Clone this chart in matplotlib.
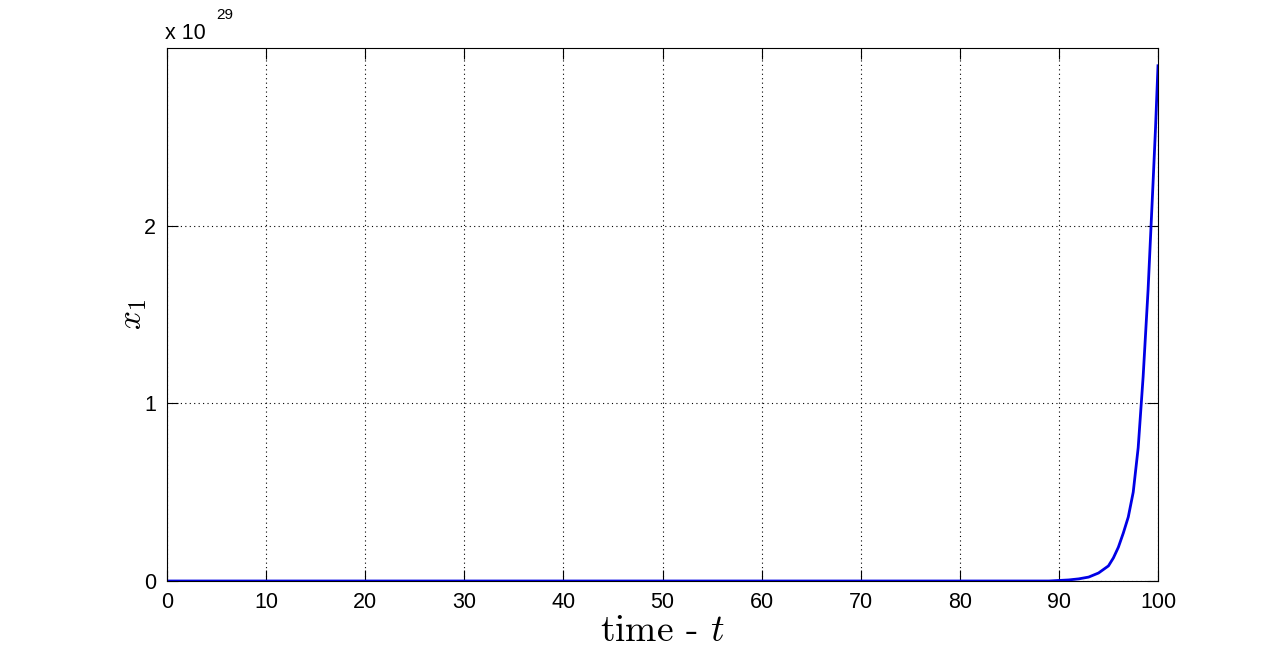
import numpy as np
import matplotlib
matplotlib.use('Agg')
import matplotlib.pyplot as plt

# solution x_1(t) (zero until t ~ 90)
t_flat = [0, 10, 20, 30, 40, 50, 60, 70, 80, 89]
x_flat = [0, 0, 0, 0, 0, 0, 0, 0, 0, 0]
t_tail = [90, 91, 92, 93, 94, 95, 95.5, 96, 96.5, 97, 97.5, 98, 98.5, 99, 99.3, 99.5, 99.75, 100]
x_tail = [0.003e29, 0.006e29, 0.012e29, 0.022e29, 0.045e29, 0.085e29, 0.13e29, 0.19e29,
          0.27e29, 0.36e29, 0.50e29, 0.75e29, 1.15e29, 1.64e29, 2.0e29, 2.24e29, 2.55e29, 2.90e29]

scale = 1e29
t = np.array(t_flat + t_tail)
x = np.array(x_flat + x_tail) / scale

plt.rcParams['font.family'] = ['Liberation Sans', 'DejaVu Sans']
plt.rcParams['mathtext.fontset'] = 'cm'

fig = plt.figure(figsize=(12.8, 6.53), dpi=100)
ax = fig.add_axes([167 / 1280, 1 - 581 / 653, (1158 - 167) / 1280, (581 - 48) / 653])

ax.plot(t, x, color='#0000e6', lw=2.0)

ax.set_xlim(0, 100)
ax.set_ylim(0, 3)
ax.set_xticks(np.arange(0, 101, 10))
ax.set_yticks([0, 1, 2])
ax.grid(True, color='black', linestyle=(0, (1, 3)), linewidth=0.8)
ax.tick_params(direction='in', top=True, right=True, labelsize=15.5, length=8, width=0.8)
ax.tick_params(axis='x', pad=8)
ax.tick_params(axis='y', pad=8)
for s in ax.spines.values():
    s.set_linewidth(0.8)

ax.set_xlabel('time - $t$', fontsize=27, family='cmr10', labelpad=1)
ax.set_ylabel(r'$x_1$', fontsize=24, labelpad=-4)

ax.text(-0.002, 1.008, 'x 10', transform=ax.transAxes, fontsize=15.5, ha='left', va='bottom')
ax.text(0.05, 1.048, '29', transform=ax.transAxes, fontsize=11, ha='left', va='bottom')

fig.savefig('out.png', dpi=100)
